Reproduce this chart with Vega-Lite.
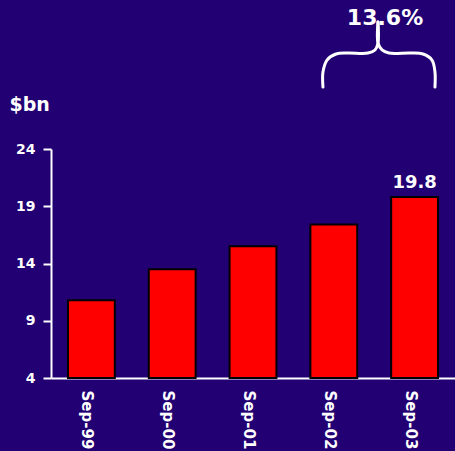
{
  "$schema": "https://vega.github.io/schema/vega-lite/v6.json",
  "width": 404,
  "height": 229,
  "autosize": {"type": "none"},
  "padding": {"left": 51, "top": 149, "right": 0, "bottom": 73},
  "background": "#220073",
  "config": {"view": {"stroke": null}, "font": "DejaVu Sans"},
  "datasets": {
    "bars": [
      {"period": "Sep-99", "value": 10.8},
      {"period": "Sep-00", "value": 13.5},
      {"period": "Sep-01", "value": 15.5},
      {"period": "Sep-02", "value": 17.4},
      {"period": "Sep-03", "value": 19.8}
    ],
    "brace": [
      {"side": "L", "ord": 1, "u": 3.366, "v": 29.41},
      {"side": "L", "ord": 2, "u": 3.366, "v": 30.72},
      {"side": "L", "ord": 3, "u": 3.416, "v": 31.77},
      {"side": "L", "ord": 4, "u": 3.527, "v": 32.30},
      {"side": "L", "ord": 5, "u": 3.676, "v": 32.38},
      {"side": "L", "ord": 6, "u": 3.923, "v": 32.38},
      {"side": "L", "ord": 7, "u": 4.010, "v": 32.65},
      {"side": "L", "ord": 8, "u": 4.047, "v": 33.26},
      {"side": "L", "ord": 9, "u": 4.047, "v": 35.09},
      {"side": "R", "ord": 1, "u": 4.047, "v": 35.09},
      {"side": "R", "ord": 2, "u": 4.047, "v": 33.26},
      {"side": "R", "ord": 3, "u": 4.097, "v": 32.65},
      {"side": "R", "ord": 4, "u": 4.183, "v": 32.38},
      {"side": "R", "ord": 5, "u": 4.443, "v": 32.38},
      {"side": "R", "ord": 6, "u": 4.604, "v": 32.30},
      {"side": "R", "ord": 7, "u": 4.715, "v": 31.77},
      {"side": "R", "ord": 8, "u": 4.752, "v": 30.72},
      {"side": "R", "ord": 9, "u": 4.752, "v": 29.41}
    ],
    "growth": [
      {"u": 4.134, "v": 35.4, "text": "13.6%"}
    ]
  },
  "layer": [
    {
      "layer": [
        {
          "data": {"name": "bars"},
          "mark": {"type": "bar", "fill": "#FF0000", "stroke": "#000000", "strokeWidth": 2},
          "encoding": {
            "x": {
              "field": "period", "type": "ordinal", "sort": null,
              "scale": {"paddingInner": 0.42, "paddingOuter": 0.21},
              "axis": {
                "title": null, "labelAngle": 90, "labelAlign": "left", "labelBaseline": "middle",
                "labelFont": "DejaVu Sans", "labelFontWeight": "bold", "labelFontSize": 15,
                "labelColor": "#FFFFFF", "labelPadding": 12, "labelOffset": -4,
                "ticks": false, "domainColor": "#FFFFFF", "domainWidth": 2, "grid": false
              }
            },
            "y": {
              "field": "value", "type": "quantitative",
              "scale": {"domain": [4, 24], "zero": false, "nice": false},
              "axis": {
                "values": [4, 9, 14, 19, 24], "grid": false,
                "title": "$bn", "titleAngle": 0, "titleAlign": "left", "titleBaseline": "alphabetic",
                "titleX": -42, "titleY": -39, "titleColor": "#FFFFFF", "titleFont": "DejaVu Sans",
                "titleFontSize": 19, "titleFontWeight": "bold",
                "labelFont": "DejaVu Sans", "labelFontWeight": "bold", "labelFontSize": 14,
                "labelColor": "#FFFFFF", "labelPadding": 8, "tickSize": 8, "tickColor": "#FFFFFF",
                "tickWidth": 2, "domainColor": "#FFFFFF", "domainWidth": 2
              }
            },
            "y2": {"datum": 4}
          }
        },
        {
          "data": {"name": "bars"},
          "transform": [{"filter": {"field": "period", "equal": "Sep-03"}}],
          "mark": {"type": "text", "baseline": "alphabetic", "dy": -9, "font": "DejaVu Sans", "fontWeight": "bold", "fontSize": 18, "color": "#FFFFFF"},
          "encoding": {
            "x": {"field": "period", "type": "ordinal", "sort": null},
            "y": {"field": "value", "type": "quantitative"},
            "text": {"field": "value", "type": "quantitative", "format": ".1f"}
          }
        }
      ]
    },
    {
      "data": {"name": "brace"},
      "mark": {"type": "line", "color": "#FFFFFF", "strokeWidth": 3, "strokeCap": "round", "strokeJoin": "round", "interpolate": "catmull-rom", "clip": false},
      "encoding": {
        "x": {"field": "u", "type": "quantitative", "scale": {"domain": [0, 5], "nice": false, "zero": false}, "axis": null},
        "y": {"field": "v", "type": "quantitative"},
        "detail": {"field": "side"},
        "order": {"field": "ord"}
      }
    },
    {
      "data": {"name": "growth"},
      "mark": {"type": "text", "baseline": "middle", "align": "center", "font": "DejaVu Sans", "fontWeight": "bold", "fontSize": 22, "color": "#FFFFFF", "clip": false},
      "encoding": {
        "x": {"field": "u", "type": "quantitative", "scale": {"domain": [0, 5], "nice": false, "zero": false}, "axis": null},
        "y": {"field": "v", "type": "quantitative"},
        "text": {"field": "text"}
      }
    }
  ],
  "resolve": {"scale": {"x": "independent"}}
}
